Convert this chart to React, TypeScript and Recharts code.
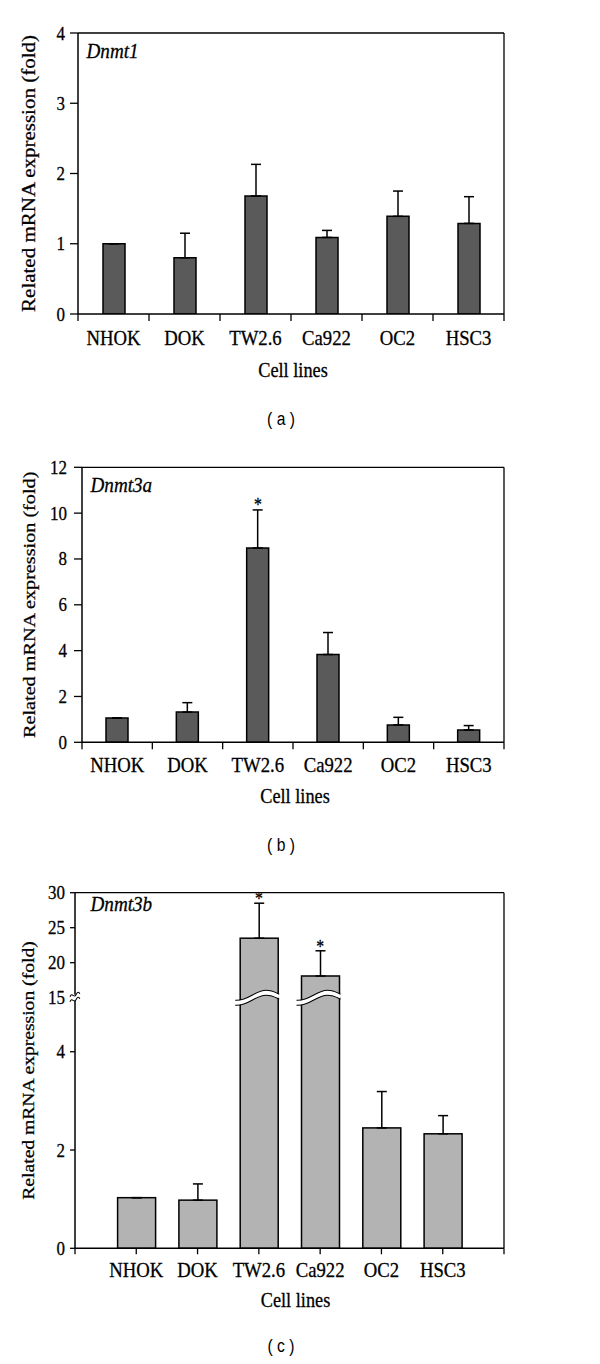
import React from 'react';
import {
  ComposedChart,
  Bar,
  XAxis,
  YAxis,
  ErrorBar,
  Scatter,
  Label,
  CartesianGrid,
  ReferenceLine,
} from 'recharts';

const SERIF = 'Liberation Serif, DejaVu Serif, serif';
const SANS = 'Liberation Sans, Arial, sans-serif';
const SQ = 0.87; // horizontal squeeze of the reference's lettering

// ---------- data ----------
const categories = ['NHOK', 'DOK', 'TW2.6', 'Ca922', 'OC2', 'HSC3'];

const dnmt1Mean = [1.0, 0.8, 1.68, 1.09, 1.39, 1.29];
const dnmt1Err = [0, 0.35, 0.45, 0.1, 0.36, 0.38];
const dnmt1Star = [false, false, false, false, false, false];

const dnmt3aMean = [1.06, 1.32, 8.48, 3.83, 0.76, 0.54];
const dnmt3aErr = [0, 0.41, 1.66, 0.96, 0.33, 0.19];
const dnmt3aStar = [false, false, true, false, false, false];

const dnmt3bMean = [1.03, 0.98, 23.5, 18.1, 2.45, 2.33];
const dnmt3bErr = [0, 0.33, 5.0, 3.6, 0.74, 0.37];
const dnmt3bStar = [false, false, true, true, false, false];

const ticksA = [0, 1, 2, 3, 4];
const ticksB = [0, 2, 4, 6, 8, 10, 12];
const ticksC = [0, 2, 4, 15, 20, 25, 30];

// broken y axis of panel (c)
const BREAK_LOW = 5.1;
const BREAK_VALUE = 15;
const UPPER_RATIO = 7 / 49.15;
const toDisplay = (v: number) => (v < BREAK_VALUE ? v : BREAK_LOW + (v - BREAK_VALUE) * UPPER_RATIO);
const fromDisplay = (d: number) =>
  d < BREAK_LOW - 1e-6 ? d : BREAK_VALUE + (d - BREAK_LOW) / UPPER_RATIO;

const buildRows = (mean: number[], err: number[], star: boolean[], tf = (v: number) => v) =>
  categories.map((name, i) => {
    const d = tf(mean[i]);
    const dTop = tf(mean[i] + err[i]);
    return { name, value: d, err: [0, dTop - d], star: star[i] ? dTop : null };
  });

const rowsA = buildRows(dnmt1Mean, dnmt1Err, dnmt1Star);
const rowsB = buildRows(dnmt3aMean, dnmt3aErr, dnmt3aStar);
const rowsC = buildRows(dnmt3bMean, dnmt3bErr, dnmt3bStar, toDisplay);

// ---------- text helper ----------
const SText = ({ x, y, size, anchor = 'middle', italic = false, family = SERIF, rotate = 0, weight = 0.3, children }: any) => (
  <text
    transform={`translate(${x},${y}) scale(${SQ},1)${rotate ? ` rotate(${rotate})` : ''}`}
    x={0}
    y={0}
    textAnchor={anchor}
    fontFamily={family}
    fontSize={size}
    fontStyle={italic ? 'italic' : 'normal'}
    fill="#000"
    stroke="#000"
    strokeWidth={weight}
  >
    {children}
  </text>
);

// ---------- shapes ----------
const wavePath = (x0: number, x1: number, yc: number) => {
  const W = x1 - x0;
  return `M${x0},${yc + 5} C${x0 + 0.3 * W},${yc + 6} ${x0 + 0.45 * W},${yc - 5} ${x0 + 0.7 * W},${yc - 5} C${x0 + 0.85 * W},${yc - 5} ${x0 + 0.95 * W},${yc - 2} ${x1},${yc - 1}`;
};

const BrokenBar = (props: any) => {
  const { x, y, width, height, payload } = props;
  if (width == null || height == null) return null;
  const bottom = y + height;
  const parts: any[] = [
    <rect key="r" x={x} y={y} width={width} height={height} fill="#b3b3b3" stroke="#000" strokeWidth={1.5} />,
  ];
  if (payload && payload.value > BREAK_LOW && height > 0) {
    const ppu = height / payload.value;
    const yb = bottom - BREAK_LOW * ppu;
    const x0 = x - 5;
    const x1 = x + width + 1;
    parts.push(<path key="w" d={wavePath(x0, x1, yb)} fill="none" stroke="#fff" strokeWidth={4.5} />);
    parts.push(<path key="a" d={wavePath(x0, x1, yb - 2.5)} fill="none" stroke="#000" strokeWidth={1.1} />);
    parts.push(<path key="b" d={wavePath(x0, x1, yb + 2.5)} fill="none" stroke="#000" strokeWidth={1.1} />);
  }
  return <g>{parts}</g>;
};

const StarShape = (dy: number) => (props: any) => {
  const { cx, cy, payload } = props;
  if (!payload || payload.star == null || cx == null || cy == null || isNaN(cy)) return <g />;
  return (
    <SText x={cx} y={cy + dy} size={18}>
      *
    </SText>
  );
};

// ---------- panels ----------
type PanelCfg = any;
const RIGHT = 96;
const WIDTH = 600;

const panels: PanelCfg[] = [
  {
    key: 'a', rows: rowsA, top: 0, height: 440, marginTop: 33, marginBottom: 86, yWidth: 78,
    yTicks: ticksA, yDomain: [0, 4], yTickSize: 8, yTickMargin: 5, yLabelSize: 21,
    barSize: 22, barFill: '#5a5a5a', broken: false, boundaryTicks: true, padL: 0, padR: 0,
    xLabelBase: 31, cellLinesBase: 62.5, cellDx: 2, captionBase: 106 + 4.7, caption: '( a )',
    title: 'Dnmt1', titleDx: 8.5, titleDy: 25, starDy: 1,
  },
  {
    key: 'b', rows: rowsB, top: 440, height: 420, marginTop: 27.3, marginBottom: 77.7, yWidth: 82,
    yTicks: ticksB, yDomain: [0, 12], yTickSize: 8, yTickMargin: 7, yLabelSize: 20.2,
    barSize: 22, barFill: '#5a5a5a', broken: false, boundaryTicks: true, padL: 0, padR: 0,
    xLabelBase: 29.4, cellLinesBase: 60.7, cellDx: 2, captionBase: 103.7 + 4.7, caption: '( b )',
    title: 'Dnmt3a', titleDx: 8.5, titleDy: 24.4, starDy: 1,
  },
  {
    key: 'c', rows: rowsC, top: 870, height: 494, marginTop: 22.7, marginBottom: 75.7, yWidth: 75,
    yTicks: ticksC.map(toDisplay), yDomain: [0, toDisplay(30)], yTickSize: 5, yTickMargin: 5,
    yLabelSize: 19.6, barSize: 38, barFill: '#b3b3b3', broken: true, boundaryTicks: false,
    padL: 30.6, padR: 30.6, xLabelBase: 28.7, cellLinesBase: 58.2, cellDx: 6,
    captionBase: 98.7 + 4.7, caption: '( c )', title: 'Dnmt3b', titleDx: 15.5, titleDy: 18, starDy: 2,
  },
];

const CAPTION_X = 281;

const Panel = ({ p }: { p: PanelCfg }) => {
  const plotW = WIDTH - p.yWidth - RIGHT - p.padL - p.padR;
  const bw = plotW / categories.length;

  const XTick = (props: any) => {
    const { x, y, payload, index } = props;
    const lines: any[] = [];
    const ln = (k: string, xx: number, len: number) => (
      <line key={k} x1={xx} x2={xx} y1={y} y2={y + len} stroke="#000" strokeWidth={1.3} />
    );
    if (p.boundaryTicks) {
      lines.push(ln('l', x - bw / 2, 7));
      if (index === categories.length - 1) lines.push(ln('r', x + bw / 2, 7));
    } else {
      lines.push(ln('c', x, 6));
      if (index === 0) lines.push(ln('l', x - bw / 2 - p.padL, 6));
      if (index === categories.length - 1) lines.push(ln('r', x + bw / 2 + p.padR, 6));
    }
    return (
      <g>
        {lines}
        <SText x={x} y={y + p.xLabelBase} size={21.5}>
          {payload.value}
        </SText>
      </g>
    );
  };

  const YTick = (props: any) => {
    const { x, y, payload } = props;
    const axisX = x + p.yTickSize + p.yTickMargin;
    const label = p.broken ? Math.round(fromDisplay(payload.value)) : payload.value;
    const isBreak = p.broken && label === BREAK_VALUE;
    return (
      <g>
        {!isBreak && (
          <line x1={axisX - p.yTickSize} x2={axisX} y1={y} y2={y} stroke="#000" strokeWidth={1.3} />
        )}
        {isBreak && (
          <g>
            <rect x={axisX - 2} y={y - 3} width={4} height={6} fill="#fff" />
            <path
              d={`M${axisX - 5},${y - 1} C${axisX - 3},${y - 6} ${axisX - 1},${y + 1} ${axisX + 1},${y - 3} S${axisX + 4},${y - 5} ${axisX + 5},${y - 4}`}
              fill="none" stroke="#000" strokeWidth={1.1}
            />
            <path
              d={`M${axisX - 5},${y + 4} C${axisX - 3},${y - 1} ${axisX - 1},${y + 6} ${axisX + 1},${y + 2} S${axisX + 4},${y} ${axisX + 5},${y + 1}`}
              fill="none" stroke="#000" strokeWidth={1.1}
            />
          </g>
        )}
        <SText x={x} y={y + 6.5} size={19.5} anchor="end">
          {label}
        </SText>
      </g>
    );
  };

  return (
    <div style={{ position: 'absolute', left: 0, top: p.top, width: WIDTH, height: p.height }}>
      <ComposedChart
        width={WIDTH}
        height={p.height}
        data={p.rows}
        margin={{ top: p.marginTop, right: RIGHT, bottom: p.marginBottom, left: 0 }}
      >
        <CartesianGrid
          xAxisId="main"
          yAxisId="main"
          stroke="#000"
          strokeWidth={1.3}
          horizontal={false}
          verticalCoordinatesGenerator={(gp: any) => [gp.offset.left + gp.offset.width]}
        />
        <XAxis
          xAxisId="main"
          dataKey="name"
          type="category"
          height={40}
          padding={{ left: p.padL, right: p.padR }}
          axisLine={{ stroke: '#000', strokeWidth: 1.5 }}
          tickLine={false}
          tickSize={0}
          tickMargin={0}
          interval={0}
          tick={<XTick />}
        >
          <Label
            content={(lp: any) => {
              const vb = lp.viewBox || {};
              const cx = vb.x + vb.width / 2 + p.cellDx;
              return (
                <g>
                  <SText x={cx} y={vb.y + p.cellLinesBase} size={21}>
                    Cell lines
                  </SText>
                  <SText x={CAPTION_X} y={vb.y + p.captionBase} size={18} family={SANS} weight={0}>
                    {p.caption}
                  </SText>
                </g>
              );
            }}
          />
        </XAxis>
        <YAxis
          yAxisId="main"
          type="number"
          width={p.yWidth}
          domain={p.yDomain}
          ticks={p.yTicks}
          interval={0}
          allowDataOverflow
          axisLine={{ stroke: '#000', strokeWidth: 1.5 }}
          tickLine={false}
          tickSize={p.yTickSize}
          tickMargin={p.yTickMargin}
          tick={<YTick />}
        >
          <Label
            content={(lp: any) => {
              const vb = lp.viewBox || {};
              const cy = vb.y + vb.height / 2;
              return (
                <g>
                  <SText x={28.5} y={cy} size={p.yLabelSize} rotate={-90}>
                    <tspan dy="0.35em">Related mRNA expression (fold)</tspan>
                  </SText>
                  <SText x={vb.x + vb.width + p.titleDx} y={vb.y + p.titleDy} size={22} italic anchor="start">
                    {p.title}
                  </SText>
                </g>
              );
            }}
          />
        </YAxis>
        <ReferenceLine xAxisId="main" yAxisId="main" y={p.yDomain[1]} stroke="#000" strokeWidth={1.3} ifOverflow="extendDomain" />
        <Bar
          xAxisId="main"
          yAxisId="main"
          dataKey="value"
          barSize={p.barSize}
          fill={p.barFill}
          stroke="#000"
          strokeWidth={1.5}
          isAnimationActive={false}
          shape={p.broken ? <BrokenBar /> : undefined}
        >
          <ErrorBar dataKey="err" width={5} stroke="#000" strokeWidth={1.5} direction="y" isAnimationActive={false} />
        </Bar>
        <Scatter xAxisId="main" yAxisId="main" dataKey="star" fill="#000" isAnimationActive={false} shape={StarShape(p.starDy)} />
      </ComposedChart>
    </div>
  );
}

export default function App() {
  return (
    <div style={{ position: 'absolute', left: 0, top: 0, width: 600, height: 1364, background: '#fff' }}>
      {panels.map((p) => (
        <Panel key={p.key} p={p} />
      ))}
    </div>
  );
}
